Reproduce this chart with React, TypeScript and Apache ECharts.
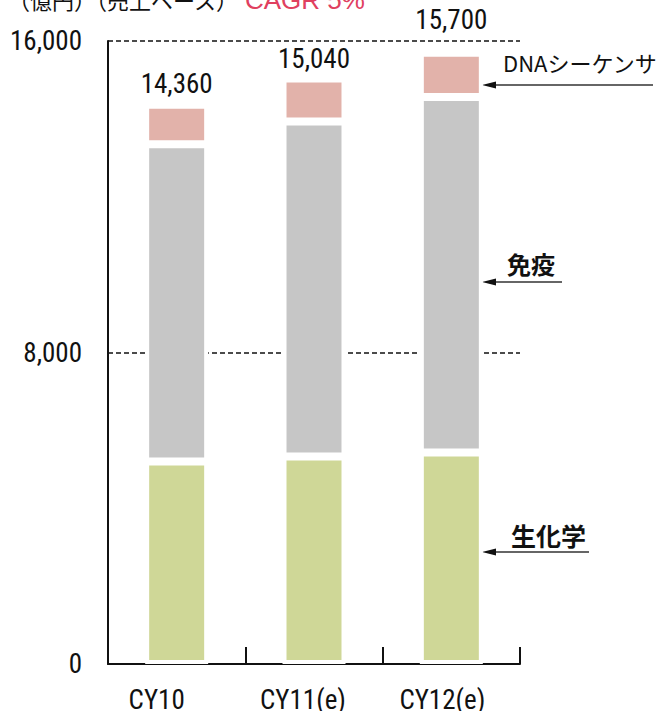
import React, { useEffect, useRef } from "react";
import * as echarts from "echarts";

// Market size by segment (億円)
const categories = ["CY10", "CY11(e)", "CY12(e)"];
const biochemistry = [5200, 5330, 5430]; // 生化学
const immunoassay = [8150, 8600, 9130]; // 免疫
const dnaSequencer = [1010, 1110, 1140]; // DNAシーケンサ
const totals = [14360, 15040, 15700];
const totalLabelGap = [7, 6, 19];
const yMin = 0;
const yMax = 16000;
const yInterval = 8000;

const numFont = '"Roboto Condensed", Roboto, "Liberation Sans", sans-serif';
const jpFont = '"Noto Sans CJK JP", "Noto Sans", sans-serif';

// horizontal nudge of each category label (px, negative = left)
const categoryShift = [-20, -11, -9];

const fmt = (v: number) => v.toLocaleString("en-US");

function arrow(xTip: number, xEnd: number, y: number) {
  return [
    {
      type: "line",
      shape: { x1: xTip + 10, y1: y, x2: xEnd, y2: y },
      style: { stroke: "#333", lineWidth: 1.6 },
    },
    {
      type: "polygon",
      shape: {
        points: [
          [xTip, y],
          [xTip + 14, y - 3.5],
          [xTip + 14, y + 3.5],
        ],
      },
      style: { fill: "#111" },
    },
  ];
}

export default function App() {
  const ref = useRef<HTMLDivElement>(null);

  useEffect(() => {
    if (!ref.current) return;
    const chart = echarts.init(ref.current, null, { renderer: "svg" });

    const rich: Record<string, any> = {};
    categoryShift.forEach((s, i) => {
      rich["c" + i] = {
        fontFamily: numFont,
        fontSize: 27,
        color: "#111",
        padding: s < 0 ? [0, -2 * s, 0, 0] : [0, 0, 0, 2 * s],
      };
    });

    const seg = (name: string, data: number[], color: string) => ({
      name,
      type: "bar",
      stack: "total",
      barWidth: 63,
      data,
      itemStyle: { color, borderColor: "#fff", borderWidth: 4 },
      emphasis: { disabled: true },
    });

    chart.setOption({
      animation: false,
      backgroundColor: "#fff",
      grid: {
        left: 108,
        right: 139,
        top: 41,
        bottom: 47,
        containLabel: false,
        outerBoundsMode: "none",
      },
      xAxis: {
        type: "category",
        data: categories,
        axisLine: { show: true, lineStyle: { color: "#111", width: 2 } },
        axisTick: { show: true, inside: true, length: 17, lineStyle: { color: "#111", width: 2 } },
        axisLabel: {
          margin: 22,
          formatter: (v: string) => {
            const i = categories.indexOf(v);
            return `{c${i}|${v}}`;
          },
          rich,
        },
      },
      yAxis: {
        type: "value",
        min: yMin,
        max: yMax,
        interval: yInterval,
        axisLine: { show: true, lineStyle: { color: "#111", width: 2 } },
        axisTick: { show: false },
        axisLabel: {
          margin: 26,
          fontFamily: numFont,
          fontSize: 27,
          color: "#111",
          formatter: (v: number) => fmt(v),
        },
        splitLine: {
          show: true,
          lineStyle: { color: "#111", width: 1.5, type: [5, 3] },
        },
      },
      series: [
        seg("生化学", biochemistry, "#CFD797"),
        seg("免疫", immunoassay, "#C6C6C6"),
        {
          ...seg("DNAシーケンサ", [], "#E2B2AA"),
          data: dnaSequencer.map((v, i) => ({
            value: v,
            label: { distance: totalLabelGap[i] },
          })),
          label: {
            show: true,
            position: "top",
            fontFamily: numFont,
            fontSize: 27,
            color: "#111",
            formatter: (p: any) => fmt(totals[p.dataIndex]),
          },
        },
      ],
      graphic: [
        {
          type: "text",
          left: 8,
          top: -12,
          style: {
            text: "（億円）（売上ベース）",
            font: `22px ${jpFont}`,
            fill: "#111",
          },
        },
        {
          type: "text",
          left: 245,
          top: -13,
          style: {
            text: "CAGR 5%",
            font: `26px "Liberation Sans", sans-serif`,
            fill: "#E0405F",
          },
        },
        {
          type: "text",
          x: 503,
          y: 62,
          style: {
            text: "DNAシーケンサ",
            font: `22px ${jpFont}`,
            fill: "#111",
            verticalAlign: "middle",
          },
        },
        ...arrow(482, 653, 85),
        {
          type: "text",
          x: 507,
          y: 263,
          style: {
            text: "免疫",
            font: `bold 24px ${jpFont}`,
            fill: "#111",
            verticalAlign: "middle",
          },
        },
        ...arrow(482, 562, 282),
        {
          type: "text",
          x: 511,
          y: 535,
          style: {
            text: "生化学",
            font: `bold 25px ${jpFont}`,
            fill: "#111",
            verticalAlign: "middle",
          },
        },
        ...arrow(482, 589, 552),
      ],
    });

    return () => chart.dispose();
  }, []);

  return (
    <div
      ref={ref}
      style={{ position: "absolute", left: 0, top: 0, width: 659, height: 711 }}
    />
  );
}
